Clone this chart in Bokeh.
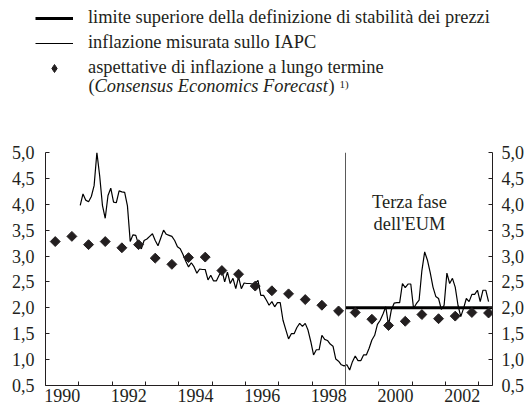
import numpy as np
from bokeh.plotting import figure
from bokeh.models import Range1d, LinearAxis, FixedTicker, Span, Label, Legend, LegendItem
from bokeh.layouts import column
from bokeh.embed import file_html
from bokeh.resources import INLINE

FONT = "Liberation Serif"
INK = "#231f20"

# ---------------- data ----------------
hicp_start_year = 1991
hicp_1991 = [3.98, 4.20, 4.08, 4.05, 4.15, 4.36, 5.00, 4.55, 3.98, 3.73, 4.17, 4.31]
hicp_1992 = [4.04, 4.03, 4.26, 4.24, 4.23, 3.97, 3.28, 3.41, 3.40, 3.22, 3.14, 3.30]
hicp_1993 = [3.33, 3.38, 3.43, 3.30, 3.20, 3.35, 3.50, 3.42, 3.40, 3.38, 3.30, 3.18]
hicp_1994 = [3.14, 3.03, 2.90, 2.79, 2.87, 2.79, 2.67, 2.75, 2.74, 2.74, 2.54, 2.63]
hicp_1995 = [2.52, 2.52, 2.63, 2.73, 2.50, 2.69, 2.47, 2.57, 2.37, 2.60, 2.37, 2.48]
hicp_1996 = [2.47, 2.47, 2.46, 2.47, 2.53, 2.24, 2.24, 2.15, 2.05, 2.12, 2.02, 2.10]
hicp_1997 = [2.10, 1.76, 1.58, 1.40, 1.50, 1.50, 1.62, 1.70, 1.64, 1.70, 1.57, 1.35]
hicp_1998 = [1.09, 1.19, 1.19, 1.47, 1.39, 1.37, 1.30, 1.26, 1.01, 0.97, 0.90, 0.88]
hicp_1999 = [0.90, 0.80, 0.96, 1.07, 0.98, 0.98, 1.09, 1.09, 1.22, 1.38, 1.47, 1.68]
hicp_2000 = [1.76, 1.88, 2.02, 1.66, 1.96, 2.09, 2.10, 2.10, 2.47, 2.39, 2.46, 2.46]
hicp_2001 = [1.99, 2.08, 2.15, 2.72, 3.08, 2.92, 2.68, 2.40, 2.22, 2.18, 1.97, 2.05]
hicp_2002 = [2.67, 2.47, 2.57, 2.40, 2.05, 1.83, 1.99, 2.18, 2.12, 2.26, 2.26, 2.34]
hicp_2003 = [2.12, 2.34, 2.34, 2.12]

# Consensus Economics survey (April and October rounds)
survey_years = [1990, 1990, 1991, 1991, 1992, 1992, 1993, 1993, 1994, 1994,
                1995, 1995, 1996, 1996, 1997, 1997, 1998, 1998, 1999, 1999,
                2000, 2000, 2001, 2001, 2002, 2002, 2003]
survey_months = [4, 10] * 13 + [4]
expectations = [3.28, 3.38, 3.22, 3.28, 3.16, 3.22, 2.96, 2.84, 2.97, 2.98,
                2.72, 2.65, 2.42, 2.33, 2.27, 2.16, 2.05, 1.94, 1.91, 1.78,
                1.66, 1.74, 1.87, 1.79, 1.84, 1.91, 1.90]

ceiling_start = 1999.0
ceiling_value = 2.0
third_stage_start = 1999.0

x_tick_years = list(range(1990, 2004))
x_label_years = [1990, 1992, 1994, 1996, 1998, 2000, 2002]
y_tick_values = [0.5, 1.0, 1.5, 2.0, 2.5, 3.0, 3.5, 4.0, 4.5, 5.0]
y_tick_labels = ["0,5", "1,0", "1,5", "2,0", "2,5", "3,0", "3,5", "4,0", "4,5", "5,0"]

legend_labels = ["limite superiore della definizione di stabilità dei prezzi",
                 "inflazione misurata sullo IAPC",
                 "aspettative di inflazione a lungo termine"]
note_italic = "Consensus Economics Forecast"
note_mark = "1)"
stage_text = ["Terza fase", "dell'EUM"]

# ---------------- derived ----------------
hicp = (hicp_1991 + hicp_1992 + hicp_1993 + hicp_1994 + hicp_1995 + hicp_1996 +
        hicp_1997 + hicp_1998 + hicp_1999 + hicp_2000 + hicp_2001 + hicp_2002 + hicp_2003)
hicp_x = [hicp_start_year + (i + 0.5) / 12 for i in range(len(hicp))]
exp_x = [y + (m - 0.5) / 12 for y, m in zip(survey_years, survey_months)]
X_END = 2003.41
ceiling_x = [ceiling_start, X_END]
ceiling_y = [ceiling_value, ceiling_value]

W = 528
TOP_H = 140
MAIN_H = 269
LEG_FS = "18.4px"

# ---------------- legend figure ----------------
top = figure(width=W, height=TOP_H, x_range=Range1d(0, 1), y_range=Range1d(0, 1),
             output_backend="svg", toolbar_location=None,
             x_axis_location=None, y_axis_location=None,
             min_border_left=28, min_border_right=0, min_border_top=0, min_border_bottom=0)
top.frame_align = False
top.grid.visible = False
top.outline_line_color = None
# legend-only renderers (kept outside the visible range)
r1 = top.line([-5, -4], [-5, -5], line_color="black", line_width=3)
r2 = top.line([-5, -4], [-5, -5], line_color="black", line_width=1.1)
r3 = top.scatter([-5], [-5], marker="diamond", color=INK)
legend = Legend(items=[LegendItem(label=legend_labels[0], renderers=[r1]),
                       LegendItem(label=legend_labels[1], renderers=[r2]),
                       LegendItem(label=legend_labels[2], renderers=[r3])],
                location="top_left", margin=7, padding=0, spacing=4,
                label_height=20, glyph_height=20, glyph_width=38, label_standoff=15,
                label_text_font=FONT, label_text_font_size=LEG_FS, label_text_color=INK,
                border_line_color=None, background_fill_alpha=0)
top.add_layout(legend)

row4_y = 45
top.add_layout(Label(x=60, y=row4_y, x_units="screen", y_units="screen", text="(",
                     text_font=FONT, text_font_size=LEG_FS, text_color=INK))
top.add_layout(Label(x=66, y=row4_y, x_units="screen", y_units="screen", text=note_italic,
                     text_font=FONT, text_font_style="italic", text_font_size=LEG_FS, text_color=INK))
top.add_layout(Label(x=300, y=row4_y, x_units="screen", y_units="screen", text=")",
                     text_font=FONT, text_font_size=LEG_FS, text_color=INK))
top.add_layout(Label(x=311, y=row4_y + 6, x_units="screen", y_units="screen", text=note_mark,
                     text_font=FONT, text_font_size="11px", text_color=INK))

# ---------------- main chart ----------------
p = figure(width=W, height=MAIN_H, x_range=Range1d(1990.0, X_END), y_range=Range1d(0.5, 5.0),
           output_backend="svg", toolbar_location=None,
           min_border_left=45, min_border_right=36, min_border_top=12, min_border_bottom=24)
p.frame_align = False
p.grid.visible = False
p.outline_line_color = None

xa = p.xaxis[0]
xa.ticker = FixedTicker(ticks=[y + 0.5 for y in x_label_years], minor_ticks=x_tick_years)
xa.major_label_overrides = {y + 0.5: str(y) for y in x_label_years}
xa.major_tick_in = 0
xa.major_tick_out = 0
xa.minor_tick_in = 4
xa.minor_tick_out = 0
xa.major_label_standoff = 3

ya = p.yaxis[0]
ya.ticker = FixedTicker(ticks=y_tick_values)
ya.major_label_overrides = dict(zip(y_tick_values, y_tick_labels))
ya.major_tick_in = 4
ya.major_tick_out = 0
ya.major_label_standoff = 11

ra = LinearAxis(ticker=FixedTicker(ticks=y_tick_values),
                major_label_overrides=dict(zip(y_tick_values, y_tick_labels)))
ra.major_tick_in = 4
ra.major_tick_out = 0
ra.major_label_standoff = 9
p.add_layout(ra, "right")

for ax in (xa, ya, ra):
    ax.axis_line_color = INK
    ax.axis_line_width = 1
    ax.major_tick_line_color = INK
    ax.minor_tick_line_color = INK if ax is xa else None
    ax.major_label_text_font = FONT
    ax.major_label_text_font_size = "18px"
    ax.major_label_text_color = INK

p.add_layout(Span(location=third_stage_start, dimension="height",
                  line_color="#5a5a5a", line_width=1))

p.line(hicp_x, hicp, line_color="black", line_width=1.2)
p.line(ceiling_x, ceiling_y, line_color="black", line_width=3)
p.scatter(exp_x, expectations, marker="square", angle=np.pi / 4, size=7, color=INK)

p.add_layout(Label(x=2000.92, y=4.04, text=stage_text[0], text_align="center",
                   text_baseline="alphabetic", text_font=FONT, text_font_size=LEG_FS, text_color=INK))
p.add_layout(Label(x=2000.92, y=3.62, text=stage_text[1], text_align="center",
                   text_baseline="alphabetic", text_font=FONT, text_font_size=LEG_FS, text_color=INK))

layout = column(top, p, spacing=0)
open("out.html", "w").write(file_html(layout, INLINE))
